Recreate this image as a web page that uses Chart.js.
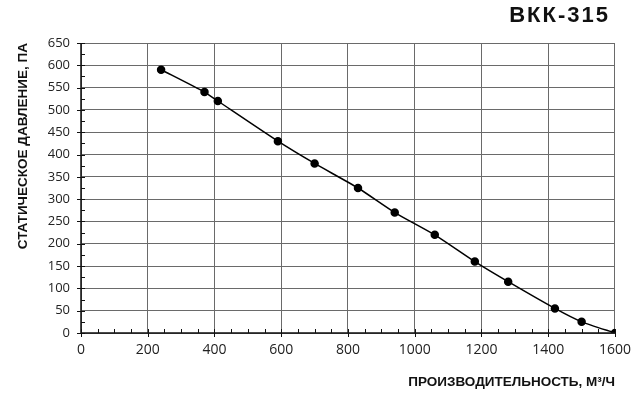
<!DOCTYPE html>
<html>
<head>
<meta charset="utf-8">
<script src="https://cdn.jsdelivr.net/npm/chart.js@4"></script>
<style>
  html, body { margin: 0; padding: 0; background: #fff; }
  #wrap { width: 640px; height: 401px; }
</style>
</head>
<body>
<div id="wrap"><canvas id="chart" width="640" height="401"></canvas></div>
<script>
// ВКК-315 – напорная характеристика
const flowValues = [240, 370, 410, 590, 700, 830, 940, 1060, 1180, 1280, 1420, 1500, 1600];
const pressureValues = [590, 540, 520, 430, 380, 325, 270, 220, 160, 115, 55, 25, 0];
const xTicks = [0, 200, 400, 600, 800, 1000, 1200, 1400, 1600];
const yTicks = [0, 50, 100, 150, 200, 250, 300, 350, 400, 450, 500, 550, 600, 650];

const chartTitle = 'ВКК-315';
const xTitle = 'ПРОИЗВОДИТЕЛЬНОСТЬ, М³/Ч';
const yTitle = 'СТАТИЧЕСКОЕ ДАВЛЕНИЕ, ПА';

// малые деления и оси поверх сетки
const axisTicks = {
  id: 'axisTicks',
  afterDatasetsDraw(chart) {
    const {ctx, chartArea: a, scales: {x, y}} = chart;
    ctx.save();
    ctx.strokeStyle = '#111';
    ctx.lineWidth = 1.5;
    ctx.beginPath();
    ctx.moveTo(a.left, a.top);
    ctx.lineTo(a.left, a.bottom);
    ctx.lineTo(a.right, a.bottom);
    ctx.stroke();

    ctx.lineWidth = 1;
    ctx.beginPath();
    for (let v = 0; v <= 1600; v += 50) {
      const px = Math.round(x.getPixelForValue(v)) + 0.5;
      const major = v % 200 === 0;
      ctx.moveTo(px, a.bottom + (major ? 4 : 0));
      ctx.lineTo(px, a.bottom - 4);
    }
    for (let v = 0; v <= 650; v += 25) {
      const py = Math.round(y.getPixelForValue(v)) + 0.5;
      const major = v % 50 === 0;
      ctx.moveTo(a.left - (major ? 4 : 0), py);
      ctx.lineTo(a.left + 4, py);
    }
    ctx.stroke();
    ctx.restore();
  },
  afterDraw(chart) {
    const {ctx} = chart;
    ctx.save();
    ctx.font = 'bold 22px "Liberation Sans", Arial, sans-serif';
    ctx.fillStyle = '#111';
    ctx.textAlign = 'right';
    ctx.textBaseline = 'middle';
    if ('letterSpacing' in ctx) ctx.letterSpacing = '2px';
    ctx.fillText(chartTitle, 610, 16);
    ctx.restore();
  }
};

new Chart(document.getElementById('chart'), {
  type: 'line',
  data: {
    datasets: [{
      data: flowValues.map((v, i) => ({x: v, y: pressureValues[i]})),
      borderColor: '#000',
      backgroundColor: '#000',
      borderWidth: 1.5,
      pointRadius: 3.5,
      pointHoverRadius: 3.5,
      tension: 0.2
    }]
  },
  plugins: [axisTicks],
  options: {
    responsive: false,
    animation: false,
    layout: {padding: {top: 43, right: 24, left: 0, bottom: 0}},
    plugins: {legend: {display: false}, tooltip: {enabled: false}},
    scales: {
      x: {
        type: 'linear',
        min: 0,
        max: 1600,
        afterBuildTicks: s => { s.ticks = xTicks.map(v => ({value: v})); },
        afterFit: s => { s.height = 68; },
        grid: {color: '#6a6a6a', lineWidth: 1, drawTicks: false},
        border: {display: false},
        ticks: {
          color: '#222',
          padding: 9,
          maxRotation: 0,
          callback: v => String(v),
          font: {family: '"Open Sans", sans-serif', size: 14}
        },
        title: {
          display: true,
          text: xTitle,
          align: 'end',
          color: '#111',
          padding: {top: 4, bottom: 11},
          font: {family: '"Liberation Sans", Arial, sans-serif', size: 13.5, weight: 'bold'}
        }
      },
      y: {
        min: 0,
        max: 650,
        afterBuildTicks: s => { s.ticks = yTicks.map(v => ({value: v})); },
        afterFit: s => { s.width = 81; },
        grid: {color: '#6a6a6a', lineWidth: 1, drawTicks: false},
        border: {display: false},
        ticks: {
          color: '#222',
          padding: 11,
          callback: v => String(v),
          font: {family: '"Open Sans", sans-serif', size: 13}
        },
        title: {
          display: true,
          text: yTitle,
          align: 'end',
          color: '#111',
          padding: {top: 15, bottom: 0},
          font: {family: '"Liberation Sans", Arial, sans-serif', size: 13.5, weight: 'bold'}
        }
      }
    }
  }
});
</script>
</body>
</html>
